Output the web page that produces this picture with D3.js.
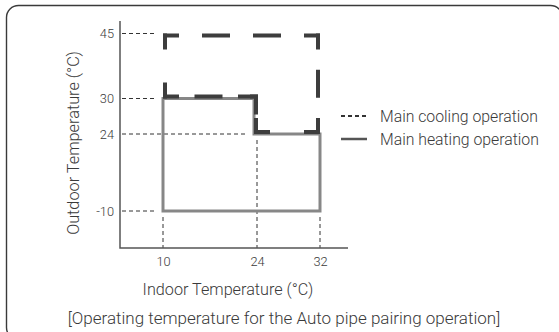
<!DOCTYPE html>
<html>
<head>
<meta charset="utf-8">
<script src="https://cdn.jsdelivr.net/npm/d3@7"></script>
<style>
  html, body { margin: 0; padding: 0; background: #fff; }
  svg { display: block; }
  text { font-family: Roboto, "Noto Sans", sans-serif; font-weight: 300; fill: #3a3a3a; }
</style>
</head>
<body>
<script>
// Operating range for the Auto pipe pairing operation
const indoorTicks = [10, 24, 32];
const outdoorTicks = [-10, 24, 30, 45];

// Envelope outlines as [indoor °C, outdoor °C] corners
const coolingOutline = [[10, 45], [32, 45], [32, 24], [24, 24], [24, 30], [10, 30]];
const heatingOutline = [[10, -10], [10, 30], [24, 30], [24, 24], [32, 24], [32, -10]];

// Guide lines from the axes to the envelope corners
const outdoorGuides = [[45, 10], [30, 10], [24, 24], [-10, 10]];
const indoorGuides = [[10, -10], [24, 24], [32, -10]];

const seriesNames = ["Main cooling operation", "Main heating operation"];
const xTitle = "Indoor Temperature (°C)";
const yTitle = "Outdoor Temperature (°C)";
const caption = "[Operating temperature for the Auto pipe pairing operation]";

const W = 559, H = 332;
const plot = { left: 120, right: 348, top: 21, bottom: 248 };

const svg = d3.select("body").append("svg").attr("width", W).attr("height", H);

// Rounded frame
svg.append("rect")
  .attr("x", 6.5).attr("y", 5.5).attr("width", 556).attr("height", 334)
  .attr("rx", 12).attr("ry", 12)
  .attr("fill", "none").attr("stroke", "#3a3a3a").attr("stroke-width", 1.4);

// Schematic (piecewise) scales
const x = d3.scaleLinear().domain(indoorTicks).range([163, 254, 320]);
const y = d3.scaleLinear().domain(outdoorTicks).range([211, 134, 98.5, 33.5]);

// Guides
const guideStyle = sel => sel.attr("stroke", "#333").attr("stroke-width", 1)
  .attr("stroke-dasharray", "4,3").attr("fill", "none");
svg.append("g").selectAll("line").data(outdoorGuides).join("line")
  .attr("x1", plot.left + 2).attr("x2", d => x(d[1]) - (d[0] === 24 ? 9 : 6))
  .attr("y1", d => y(d[0])).attr("y2", d => y(d[0]))
  .call(guideStyle);
svg.append("g").selectAll("line").data(indoorGuides).join("line")
  .attr("x1", d => x(d[0]) + (d[0] === 24 ? 3 : 0)).attr("x2", d => x(d[0]) + (d[0] === 24 ? 3 : 0))
  .attr("y1", d => y(d[1]) + 6).attr("y2", plot.bottom)
  .call(guideStyle);

// Axes
const yAxis = svg.append("g").attr("transform", `translate(${plot.left},0)`)
  .call(d3.axisLeft(y).tickValues(outdoorTicks).tickFormat(d => String(d)).tickSize(0).tickPadding(6));
yAxis.select(".domain").remove();
yAxis.selectAll("text").style("font-size", "12.8px").attr("dy", "0.35em")
  .style("font-family", "Roboto, sans-serif").style("font-weight", 300).attr("fill", "#3a3a3a");

const xAxis = svg.append("g").attr("transform", `translate(0,${plot.bottom})`)
  .call(d3.axisBottom(x).tickValues(indoorTicks).tickFormat(d => String(d)).tickSize(0).tickPadding(9));
xAxis.select(".domain").remove();
xAxis.selectAll("text").style("font-size", "12.8px")
  .style("font-family", "Roboto, sans-serif").style("font-weight", 300).attr("fill", "#3a3a3a")
  .attr("x", d => d === 24 ? 3 : 0);

svg.append("path")
  .attr("d", d3.line()([[plot.left, plot.top], [plot.left, plot.bottom], [plot.right, plot.bottom]]))
  .attr("fill", "none").attr("stroke", "#555").attr("stroke-width", 1.5);

// Heating envelope (solid)
svg.append("path")
  .attr("d", d3.line().x(d => x(d[0])).y(d => y(d[1])).curve(d3.curveLinearClosed)(heatingOutline))
  .attr("fill", "none").attr("stroke", "#878787").attr("stroke-width", 3);

// Cooling envelope (dashed, stroke kept inside the outline, dashes aligned to corners)
const coolPts = coolingOutline.map(d => [x(d[0]), y(d[1])]);
svg.append("clipPath").attr("id", "coolClip")
  .append("path").attr("d", d3.line().curve(d3.curveLinearClosed)(coolPts));
const coolW = 8, half = 16, dash = 28, gapNom = 22;
const edges = coolPts.map((p, i) => [p, coolPts[(i + 1) % coolPts.length]]);
svg.append("g").attr("clip-path", "url(#coolClip)")
  .selectAll("line").data(edges).join("line")
  .each(function ([a, b]) {
    const L = Math.hypot(b[0] - a[0], b[1] - a[1]);
    const ux = (b[0] - a[0]) / L, uy = (b[1] - a[1]) / L;
    const ext = coolW / 2;
    const n = Math.max(1, Math.round((L - 2 * half + dash) / (dash + gapNom)));
    const gap = (L - 2 * half - (n - 1) * dash) / n;
    const h = half + ext;
    d3.select(this)
      .attr("x1", a[0] - ux * ext).attr("y1", a[1] - uy * ext)
      .attr("x2", b[0] + ux * ext).attr("y2", b[1] + uy * ext)
      .attr("stroke-dasharray", `${dash},${gap}`)
      .attr("stroke-dashoffset", dash - h);
  })
  .attr("stroke", "#3d3d3d").attr("stroke-width", coolW).attr("stroke-linecap", "butt");

// Legend
const legend = svg.append("g").attr("transform", "translate(341,0)");
const legY = [116, 139];
legend.append("line").attr("x1", 0).attr("x2", 26).attr("y1", legY[0]).attr("y2", legY[0])
  .attr("stroke", "#333").attr("stroke-width", 2).attr("stroke-dasharray", "4,3");
legend.append("line").attr("x1", 0).attr("x2", 26).attr("y1", legY[1]).attr("y2", legY[1])
  .attr("stroke", "#555").attr("stroke-width", 2.5);
legend.selectAll("text").data(seriesNames).join("text")
  .attr("x", 39).attr("y", (d, i) => legY[i]).attr("dy", "0.35em")
  .style("font-size", "15.8px").text(d => d);

// Titles
svg.append("text").attr("x", 228).attr("y", 295).attr("text-anchor", "middle")
  .style("font-size", "16.2px").text(xTitle);
svg.append("text").attr("transform", "translate(79,143) rotate(-90)").attr("text-anchor", "middle")
  .style("font-size", "16.3px").text(yTitle);
svg.append("text").attr("x", 284).attr("y", 324).attr("text-anchor", "middle")
  .style("font-size", "17px").text(caption);
</script>
</body>
</html>
